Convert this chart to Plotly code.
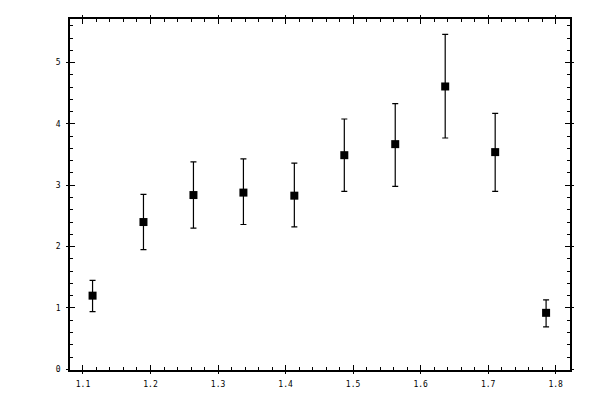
import plotly.graph_objects as go

# values
x_vals = [1.1142, 1.1896, 1.2636, 1.3376, 1.4130, 1.4870, 1.5624, 1.6364, 1.7104, 1.7858]
y_vals = [1.20, 2.40, 2.84, 2.88, 2.83, 3.49, 3.67, 4.61, 3.54, 0.92]
err_up = [0.25, 0.45, 0.54, 0.55, 0.53, 0.59, 0.66, 0.85, 0.63, 0.21]
err_down = [0.26, 0.45, 0.54, 0.52, 0.51, 0.59, 0.69, 0.84, 0.64, 0.23]

x_range = [1.0808, 1.8212]
y_range = [-0.012, 5.71]

tick_font = dict(family="DejaVu Sans Mono", size=8, color="black")

fig = go.Figure()
fig.add_trace(
    go.Scatter(
        x=x_vals,
        y=y_vals,
        mode="markers",
        marker=dict(symbol="square", size=8, color="black"),
        error_y=dict(
            type="data",
            symmetric=False,
            array=err_up,
            arrayminus=err_down,
            color="black",
            thickness=1.2,
            width=3,
        ),
        showlegend=False,
    )
)

# main axes: inside ticks, labels, mirrored on top / right
axis_common = dict(
    showline=True,
    linecolor="black",
    linewidth=1.5,
    mirror="allticks",
    ticks="inside",
    ticklen=5,
    tickwidth=1.2,
    tickcolor="black",
    showgrid=False,
    zeroline=False,
    automargin=False,
    tickfont=tick_font,
)

# overlay axes give the major ticks their short outside part
overlay_common = dict(
    ticks="outside",
    ticklen=3,
    tickwidth=1.2,
    tickcolor="black",
    mirror="allticks",
    showline=False,
    showgrid=False,
    zeroline=False,
    automargin=False,
    showticklabels=False,
)

fig.update_layout(
    width=600,
    height=400,
    margin=dict(l=70, r=30, t=19, b=30),
    paper_bgcolor="white",
    plot_bgcolor="white",
    xaxis=dict(
        range=x_range,
        tick0=1.1,
        dtick=0.1,
        tickformat=".1f",
        ticklabelstandoff=6,
        minor=dict(dtick=0.02, ticks="inside", ticklen=3, tickcolor="black", tickwidth=1),
        **axis_common,
    ),
    yaxis=dict(
        range=y_range,
        tick0=0,
        dtick=1,
        ticklabelstandoff=6,
        minor=dict(dtick=0.2, ticks="inside", ticklen=3, tickcolor="black", tickwidth=1),
        **axis_common,
    ),
    xaxis2=dict(overlaying="x", matches="x", side="bottom", tick0=1.1, dtick=0.1, **overlay_common),
    yaxis2=dict(overlaying="y", matches="y", side="left", tick0=0, dtick=1, **overlay_common),
)

# invisible trace so the overlay axes are drawn
fig.add_trace(
    go.Scatter(
        x=[x_vals[0]],
        y=[y_vals[0]],
        xaxis="x2",
        yaxis="y2",
        mode="markers",
        marker=dict(opacity=0),
        hoverinfo="skip",
        showlegend=False,
    )
)

# drop the default page margin so the figure sits at the window's corner
fig.write_html(
    "out.html",
    config={"displayModeBar": False},
    post_script="document.body.style.margin='0';",
)
